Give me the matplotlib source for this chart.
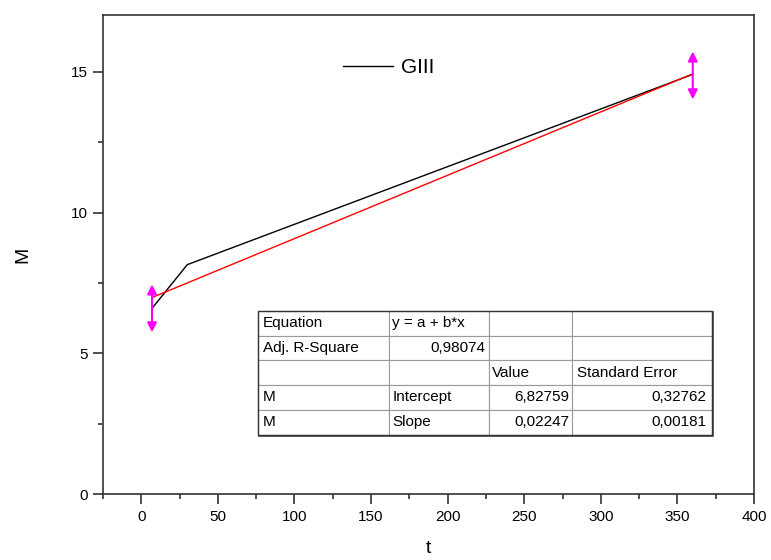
import numpy as np
import matplotlib.pyplot as plt
from matplotlib.patches import Rectangle
from matplotlib.transforms import offset_copy
from matplotlib.ticker import MultipleLocator

plt.rcParams['font.family'] = ['Liberation Sans', 'DejaVu Sans']

# data
t = [7, 30, 360]
M = [6.6, 8.15, 14.9]
err = [0.85, 0.85]      # half length of the magenta arrows at the ends
err_t = [7, 360]
err_M = [6.6, 14.86]

# linear fit reported in the table
intercept = 6.82759
slope = 0.02247
table_rows = [
    ['Equation', 'y = a + b*x', '', ''],
    ['Adj. R-Square', '0,98074', '', ''],
    ['', '', 'Value', 'Standard Error'],
    ['M', 'Intercept', '6,82759', '0,32762'],
    ['M', 'Slope', '0,02247', '0,00181'],
]
right_cells = [(1, 1), (3, 2), (3, 3), (4, 2), (4, 3)]

fig = plt.figure(figsize=(7.71, 5.6), dpi=100)
ax = fig.add_axes([0.1336, 0.117, 0.8444, 0.856])

ax.plot(t, M, color='black', lw=1, label='GIII')
tf = np.array([t[0], t[-1]])
ax.plot(tf, intercept + slope * tf, color='red', lw=1)

for x, y, e in zip(err_t, err_M, err):
    ax.annotate('', xy=(x, y + e), xytext=(x, y - e),
                arrowprops=dict(arrowstyle='<|-|>', color='magenta', lw=1.5,
                                mutation_scale=14, shrinkA=0, shrinkB=0))

ax.set_xlim(-25, 400)
ax.set_ylim(0, 17)
ax.xaxis.set_major_locator(MultipleLocator(50))
ax.xaxis.set_minor_locator(MultipleLocator(25))
ax.yaxis.set_major_locator(MultipleLocator(5))
ax.yaxis.set_minor_locator(MultipleLocator(2.5))
ax.tick_params(which='major', direction='out', length=7, width=1.2,
               labelsize=11, pad=4, color='#333333')
ax.tick_params(which='minor', direction='out', length=3.5, width=1.2,
               color='#333333')
for s in ax.spines.values():
    s.set_linewidth(1.2)
    s.set_color('#333333')

ax.set_xlabel('t', fontsize=14, labelpad=12)
ax.set_ylabel('M', fontsize=14, labelpad=28)

ax.legend(loc='center left', bbox_to_anchor=(0.34, 0.891), frameon=False,
          fontsize=15, handlelength=2.4, handletextpad=0.4)

# fit results table, with a thin shadow like the original
tbox = [0.238, 0.125, 0.697, 0.258]
tab = ax.table(cellText=table_rows, cellLoc='left',
               colWidths=[131, 100, 83, 140], bbox=tbox)
tab.set_zorder(5)
tab.auto_set_font_size(False)
tab.set_fontsize(11)
for (r, c), cell in tab.get_celld().items():
    cell.set_edgecolor('#9a9a9a')
    cell.set_linewidth(0.8)
    cell.PAD = 0.035
    if (r, c) in right_cells:
        cell.get_text().set_horizontalalignment('right')

shadow_tr = offset_copy(ax.transAxes, fig=fig, x=1.5, y=-1.5, units='dots')
ax.add_patch(Rectangle(tbox[:2], tbox[2], tbox[3], transform=shadow_tr,
                       facecolor='#444444', edgecolor='#444444', lw=1.2, zorder=4))
ax.add_patch(Rectangle(tbox[:2], tbox[2], tbox[3], transform=ax.transAxes,
                       fill=False, edgecolor='#333333', lw=1.0, zorder=6))

fig.savefig('out.png')
